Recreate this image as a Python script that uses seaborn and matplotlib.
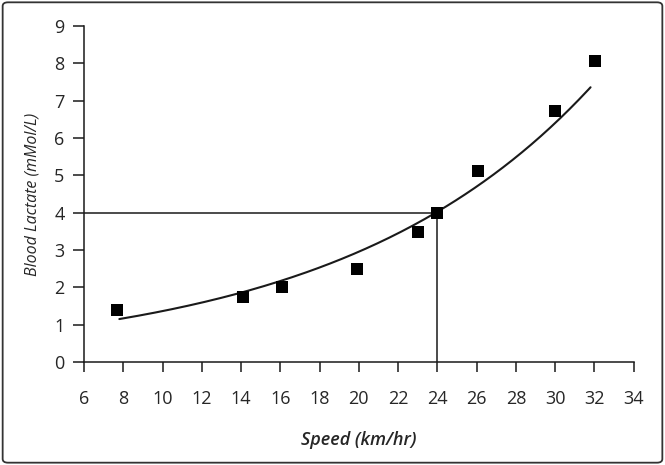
import matplotlib
matplotlib.use('Agg')
import matplotlib.pyplot as plt
from matplotlib.patches import FancyBboxPatch
import numpy as np
import pandas as pd
import seaborn as sns

## data ##
speed = [7.7, 14.1, 16.1, 19.9, 23.0, 24.0, 26.05, 30.0, 32.05]      # km/hr
lactate = [1.39, 1.74, 2.0, 2.49, 3.48, 4.0, 5.12, 6.73, 8.06]       # mMol/L
threshold_speed = 24.0
threshold_lactate = 4.0
fit_start, fit_end = 7.8, 31.8      # visible extent of the trendline
x_ticks = list(range(6, 35, 2))
y_ticks = list(range(0, 10))

## plotting params ##
sns.set_style('white')
plt.rcParams['font.family'] = ['Open Sans', 'DejaVu Sans']

df = pd.DataFrame({'speed': speed, 'lactate': lactate})

# exponential trendline (least squares on log y), as a spreadsheet would draw it
b, ln_a = np.polyfit(df['speed'], np.log(df['lactate']), 1)
fit = pd.DataFrame({'speed': np.linspace(fit_start, fit_end, 200)})
fit['lactate'] = np.exp(ln_a) * np.exp(b * fit['speed'])

fig = plt.figure(figsize=(6.65, 4.65), dpi=100)
ax = fig.add_axes([0.1263, 0.2215, 0.8267, 0.7226])

sns.lineplot(data=fit, x='speed', y='lactate', ax=ax, color='#1a1a1a', linewidth=1.5)
ax.plot([x_ticks[0], threshold_speed], [threshold_lactate, threshold_lactate],
        color='#1a1a1a', linewidth=1.1)
ax.plot([threshold_speed, threshold_speed], [y_ticks[0], threshold_lactate],
        color='#1a1a1a', linewidth=1.1)
sns.scatterplot(data=df, x='speed', y='lactate', ax=ax, marker='s', s=85,
                color='black', edgecolor='black', linewidth=0, zorder=5)

ax.set_xlim(x_ticks[0], x_ticks[-1])
ax.set_ylim(y_ticks[0], y_ticks[-1])
ax.set_xticks(x_ticks)
ax.set_yticks(y_ticks)
sns.despine(ax=ax)
for s in ['left', 'bottom']:
    ax.spines[s].set_color('#1a1a1a')
    ax.spines[s].set_linewidth(1.1)
ax.tick_params(axis='y', direction='out', length=8, width=1.1, color='#1a1a1a',
               labelsize=13, pad=6, left=True)
ax.tick_params(axis='x', direction='out', length=7, width=1.1, color='#1a1a1a',
               labelsize=13, pad=13, bottom=True)
ax.set_xlabel('Speed (km/hr)', fontsize=13, style='italic', fontweight='semibold',
              labelpad=17)
ax.set_ylabel('Blood Lactate (mMol/L)', fontsize=11.5, style='italic', labelpad=10)

# rounded frame round the whole picture
frame = FancyBboxPatch((0.004, 0.005), 0.992, 0.99, boxstyle='round,pad=0,rounding_size=0.008',
                       transform=fig.transFigure, fill=False, edgecolor='#333333',
                       linewidth=1.3)
fig.patches.append(frame)

fig.savefig('out.png', dpi=100)
plt.close()
